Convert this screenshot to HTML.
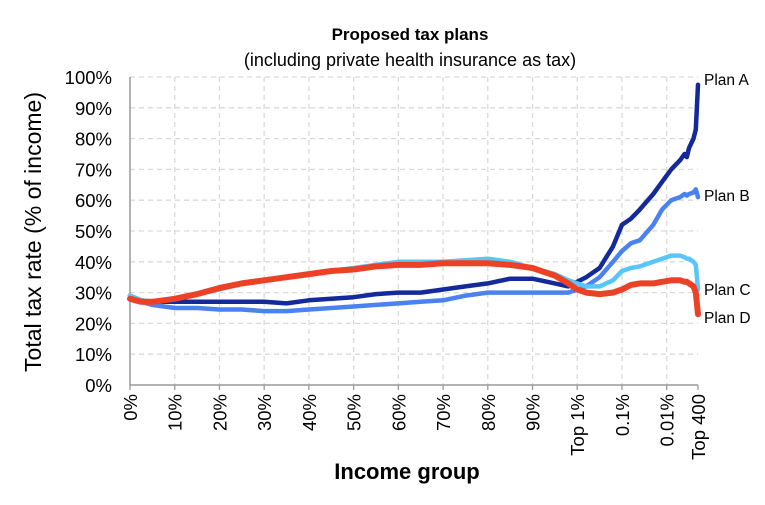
<!DOCTYPE html>
<html><head><meta charset="utf-8"><style>
body{margin:0;background:#fff;}
svg{display:block;font-family:"Liberation Sans",Arial,sans-serif;}
</style></head><body>
<svg id="chart" width="765" height="505" viewBox="0 0 765 505">
<text x="410" y="40" text-anchor="middle" font-size="17" font-weight="bold" fill="#000">Proposed tax plans</text>
<text x="410" y="66" text-anchor="middle" font-size="18" fill="#000">(including private health insurance as tax)</text>
<text transform="translate(41,232) rotate(-90)" text-anchor="middle" font-size="23" fill="#000">Total tax rate (% of income)</text>
<text x="407" y="479" text-anchor="middle" font-size="22" font-weight="bold" fill="#000">Income group</text>
<g id="grid"></g>
<g id="axes"></g>
<g id="series"></g>
<g id="labels"></g>
</svg>
<script>
const yTicks=[0,10,20,30,40,50,60,70,80,90,100];
const xTickLabels=["0%","10%","20%","30%","40%","50%","60%","70%","80%","90%","Top 1%","0.1%","0.01%","Top 400"];
const xTickPos=[0,1,2,3,4,5,6,7,8,9,10,11,12,12.7];
const xs=[0,0.25,0.5,1,1.5,2,2.5,3,3.5,4,4.5,5,5.5,6,6.5,7,7.5,8,8.5,9,9.5,9.8,10,10.2,10.5,10.8,11,11.2,11.4,11.7,11.9,12.1,12.3,12.4,12.45,12.5,12.6,12.65,12.7];
const planA=[29,27.5,27,27,27,27,27,27,26.5,27.5,28,28.5,29.5,30,30,31,32,33,34.5,34.5,33,32,33.5,35,38,45,52,54,57,62,66,70,73,75,74,77,80,83,97.5];
const planB=[29,27,26,25,25,24.5,24.5,24,24,24.5,25,25.5,26,26.5,27,27.5,29,30,30,30,30,30,31,32,35,40,43.5,46,47,52,57,60,61,62,61.5,62,62.5,63.5,61];
const planC=[29,27.5,27,28,29.5,31,33,34,35,36,37,38,39,40,40,40,40.5,41,40,38,36,34,33,32,32,34,37,38,38.5,40,41,42,42,41.5,41,41,40,39,31];
const planD=[28,27,27,28,29.5,31.5,33,34,35,36,37,37.5,38.5,39,39,39.5,39.5,39.5,39,38,35.5,33,31,30,29.5,30,31,32.5,33,33,33.5,34,34,33.5,33.5,33,32,30,23];
const seriesNames=["Plan A","Plan B","Plan C","Plan D"];
const seriesData=[planA,planB,planC,planD];
const seriesColors=["#14299a","#4a82f0","#58c6f8","#ec4127"];
const labelY=[85,201,295,323];

const X0=130,X1=698,XMAX=12.7,Y0=385,Y100=77;
const sx=v=>X0+(X1-X0)*v/XMAX;
const sy=v=>Y0-(Y0-Y100)*v/100;
const NS="http://www.w3.org/2000/svg";
const mk=(t,a,p)=>{const e=document.createElementNS(NS,t);for(const k in a)e.setAttribute(k,a[k]);p.appendChild(e);return e;};
const grid=document.getElementById('grid'),axes=document.getElementById('axes'),ser=document.getElementById('series'),lab=document.getElementById('labels');

yTicks.forEach(t=>{
  if(t>0){const l=mk('line',{x1:X0,x2:X1,y1:sy(t),y2:sy(t),stroke:'#d9d9d9','stroke-width':1.3,'stroke-dasharray':'5,4'},grid);
  
  }
  const tx=mk('text',{x:112,y:sy(t)+7,'text-anchor':'end','font-size':18.5,fill:'#000'},axes);
  tx.textContent=t+'%';
  
  
});
xTickPos.forEach((p,i)=>{
  if(i>0&&i<xTickPos.length-1){const l=mk('line',{x1:sx(p),x2:sx(p),y1:Y100,y2:Y0,stroke:'#d9d9d9','stroke-width':1.3,'stroke-dasharray':'5,4'},grid);
  
  }
  const tk=mk('line',{x1:sx(p),x2:sx(p),y1:Y0,y2:Y0+5,stroke:'#999','stroke-width':1.3},axes);
  
  
  const tx=mk('text',{transform:`translate(${sx(p)+7},${Y0+9}) rotate(-90)`,'text-anchor':'end','font-size':18.5,fill:'#000'},axes);
  tx.textContent=xTickLabels[i];
  
  
});
const ax=mk('line',{x1:X0,x2:X1,y1:Y0,y2:Y0,stroke:'#999','stroke-width':1.5},axes);


const ay=mk('line',{x1:X0,x2:X0,y1:Y100,y2:Y0,stroke:'#999','stroke-width':1.5},axes);



seriesData.forEach((d,k)=>{
  const pts=d.map((v,i)=>sx(xs[i]).toFixed(1)+','+sy(v).toFixed(1)).join(' ');
  const pl=mk('polyline',{points:pts,fill:'none',stroke:seriesColors[k],'stroke-width':k==3?6:4.5,'stroke-linejoin':'round','stroke-linecap':'round'},ser);
  
  
  const t=mk('text',{x:704,y:labelY[k],'font-size':15.5,fill:'#000'},lab);
  t.textContent=seriesNames[k];
  
  
});
</script>
</body></html>
